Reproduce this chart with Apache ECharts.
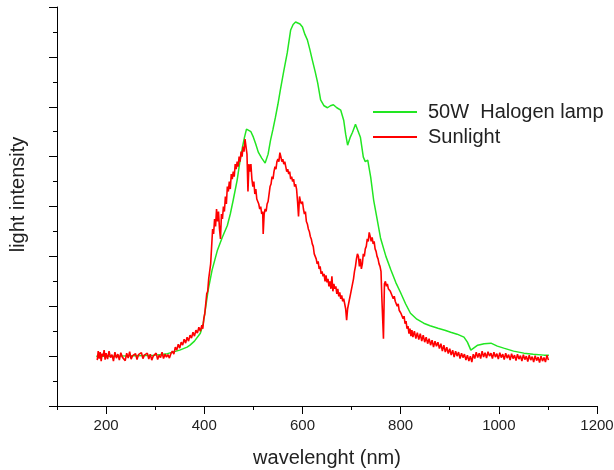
<!DOCTYPE html>
<html>
<head>
<meta charset="utf-8">
<script src="https://cdn.jsdelivr.net/npm/echarts@6/dist/echarts.min.js"></script>
<style>html,body{margin:0;padding:0;background:#fff;}#c{width:614px;height:470px;}</style>
</head>
<body>
<div id="c"></div>
<script>
const seriesNames = ['50W  Halogen lamp', 'Sunlight'];
const xMajorTicks = [200, 400, 600, 800, 1000, 1200];
const xMinorTicks = [100, 300, 500, 700, 900, 1100];

const halogen = [
[180,1.00],[220,1.00],[260,1.01],[300,1.02],[325,1.05],[350,1.12],[365,1.18],[371,1.22],[380,1.30],[392,1.46],
[398,1.66],[402,1.92],[408,2.33],[416,2.73],[427,3.13],[437,3.39],[447,3.62],[453,3.85],[459,4.13],[467,4.53],
[473,4.93],[478,5.20],[482,5.39],[486,5.55],[490,5.59],[495,5.50],[500,5.39],[505,5.25],[510,5.09],[517,4.97],
[524,4.87],[530,5.05],[535,5.33],[540,5.55],[545,5.79],[550,6.05],[555,6.34],[562,6.72],[569,7.08],[576,7.54],
[581,7.65],[586,7.70],[590,7.72],[595,7.66],[600,7.60],[605,7.45],[610,7.34],[615,7.15],[620,6.94],[626,6.70],
[631,6.48],[637,6.14],[644,6.02],[651,5.98],[657,6.02],[663,6.04],[670,5.98],[678,5.93],[684,5.73],[688,5.45],
[692,5.23],[697,5.38],[702,5.49],[708,5.65],[713,5.52],[718,5.39],[724,4.99],[728,4.90],[733,4.93],[739,4.59],
[745,4.13],[752,3.75],[759,3.37],[770,3.00],[780,2.73],[790,2.48],[800,2.27],[810,2.05],[820,1.86],[833,1.74],
[847,1.66],[860,1.61],[876,1.56],[890,1.52],[902,1.48],[915,1.44],[929,1.38],[936,1.28],[943,1.12],[950,1.17],
[957,1.22],[970,1.25],[984,1.26],[997,1.20],[1010,1.16],[1030,1.10],[1051,1.06],[1070,1.04],[1092,1.02],[1102,1.02]
];

const sunlight = [
[182,0.92],[184,1.10],[186,0.95],[188,1.08],[190,0.90],[192,1.05],[194,1.00],[196,1.12],[198,0.93],[200,1.06],
[203,0.94],[206,1.10],[209,0.97],[212,1.03],[215,0.90],[218,1.08],[221,0.96],[224,1.04],[227,0.92],[230,1.07],
[233,0.98],[236,1.02],[239,0.91],[242,1.06],[245,0.96],[248,1.09],[251,0.94],[254,1.01],[257,0.97],[260,1.05],
[263,0.93],[266,1.03],[269,0.99],[272,1.07],[275,0.95],[278,1.02],[281,0.98],[284,1.06],[287,0.94],[290,1.04],
[293,0.92],[296,1.00],[299,0.96],[302,1.06],[305,0.93],[308,1.02],[311,0.97],[314,1.08],[317,0.95],[320,1.04],
[323,0.98],[326,1.03],[329,0.96],[332,1.05],[335,1.10],[338,1.04],[341,1.18],[344,1.12],[347,1.24],[350,1.16],
[353,1.28],[356,1.22],[359,1.34],[362,1.26],[365,1.38],[368,1.30],[371,1.42],[374,1.36],[377,1.48],[380,1.40],
[383,1.52],[386,1.46],[389,1.58],[392,1.50],[395,1.62],[397,1.55],[399,1.75],[401,1.85],[403,2.05],[405,2.25],
[407,2.30],[409,2.55],[411,2.70],[413,2.85],[415,3.20],[417,3.55],[419,3.45],[421,3.75],[423,3.60],[425,3.95],
[427,3.70],[429,3.90],[431,3.55],[433,3.35],[435,3.85],[437,3.75],[439,4.00],[441,3.90],[443,4.20],[445,4.05],
[447,4.40],[449,4.30],[451,4.50],[453,4.35],[455,4.65],[457,4.55],[459,4.70],[461,4.60],[463,4.85],[465,4.75],
[467,4.90],[469,4.80],[471,5.00],[473,4.90],[475,5.10],[477,5.00],[479,5.20],[481,5.10],[483,5.35],[485,5.20],
[487,5.05],[489,4.30],[491,4.85],[493,4.70],[495,4.85],[497,4.55],[499,4.40],[501,4.50],[503,4.25],[505,4.35],
[507,4.15],[509,4.10],[511,4.05],[513,3.95],[515,4.00],[517,3.85],[519,3.90],[520,3.45],[522,3.85],[524,3.95],
[526,3.90],[528,4.05],[530,4.10],[532,4.25],[534,4.40],[536,4.45],[538,4.60],[540,4.55],[542,4.70],[544,4.80],
[546,4.75],[548,4.90],[550,4.95],[552,4.90],[554,5.08],[556,5.00],[558,4.90],[560,4.95],[562,4.85],[564,4.90],
[566,4.80],[568,4.70],[570,4.75],[572,4.65],[574,4.70],[576,4.55],[578,4.60],[580,4.50],[582,4.55],[584,4.40],
[586,4.45],[588,4.35],[590,4.10],[592,3.80],[594,4.20],[596,4.10],[598,4.05],[600,4.10],[602,3.95],[604,3.85],
[606,3.90],[608,3.70],[610,3.65],[612,3.55],[614,3.50],[616,3.40],[618,3.35],[620,3.25],[622,3.20],[624,3.05],
[626,3.00],[628,2.95],[630,2.85],[632,2.90],[634,2.75],[636,2.80],[638,2.65],[640,2.70],[642,2.60],[644,2.65],
[646,2.50],[648,2.62],[650,2.48],[652,2.55],[654,2.40],[656,2.50],[658,2.35],[660,2.60],[662,2.30],[664,2.45],
[666,2.35],[668,2.40],[670,2.25],[672,2.35],[674,2.20],[676,2.28],[678,2.15],[680,2.22],[682,2.10],[684,2.15],
[686,2.05],[688,1.95],[690,1.72],[692,1.95],[694,2.05],[696,2.15],[698,2.25],[700,2.35],[702,2.45],[704,2.55],
[706,2.70],[708,2.80],[710,2.95],[712,3.05],[714,3.00],[716,2.80],[718,2.95],[720,2.75],[722,2.85],[724,3.05],
[726,3.00],[728,3.15],[730,3.20],[732,3.35],[734,3.30],[736,3.48],[738,3.40],[740,3.30],[742,3.38],[744,3.25],
[746,3.30],[748,3.15],[750,3.10],[752,3.00],[754,2.95],[756,2.85],[758,2.80],[760,2.70],[762,2.10],[764,1.60],
[765,1.35],[766,1.90],[767,2.45],[769,2.50],[771,2.40],[773,2.45],[775,2.35],[777,2.38],[779,2.30],[781,2.25],
[783,2.28],[785,2.15],[787,2.20],[789,2.10],[791,2.12],[793,2.00],[795,2.05],[797,1.92],[799,1.95],[801,1.85],
[803,1.88],[805,1.75],[807,1.80],[809,1.65],[811,1.70],[813,1.55],[815,1.60],[817,1.45],[819,1.55],[821,1.40],
[823,1.52],[825,1.38],[828,1.50],[831,1.35],[834,1.47],[837,1.33],[840,1.45],[843,1.30],[846,1.42],[849,1.28],
[852,1.38],[855,1.25],[858,1.35],[861,1.22],[864,1.32],[867,1.18],[870,1.30],[873,1.20],[876,1.28],[879,1.15],
[882,1.25],[885,1.10],[888,1.22],[891,1.08],[894,1.18],[897,1.05],[900,1.15],[903,1.02],[906,1.12],[909,0.98],
[912,1.10],[915,1.00],[918,1.08],[921,0.95],[924,1.06],[927,0.97],[930,1.04],[933,0.92],[936,1.02],[939,0.90],
[942,1.00],[945,0.88],[948,1.04],[951,0.95],[954,1.08],[957,0.97],[960,1.06],[963,0.95],[966,1.10],[969,0.98],
[972,1.07],[975,0.96],[978,1.09],[981,1.00],[984,1.06],[987,0.95],[990,1.08],[993,0.98],[996,1.05],[999,0.94],
[1002,1.07],[1005,0.97],[1008,1.04],[1011,0.93],[1014,1.06],[1017,0.96],[1020,1.03],[1023,0.92],[1026,1.05],[1029,0.95],
[1032,1.02],[1035,0.91],[1038,1.04],[1041,0.94],[1044,1.01],[1047,0.90],[1050,1.03],[1053,0.93],[1056,1.00],[1059,0.89],
[1062,1.02],[1065,0.92],[1068,0.99],[1071,0.88],[1074,1.01],[1077,0.91],[1080,0.98],[1083,0.87],[1086,1.00],[1089,0.90],
[1092,0.97],[1095,0.88],[1098,1.02],[1101,0.92]
];

const FONT = 'Liberation Sans';
const chart = echarts.init(document.getElementById('c'), null, {renderer: 'canvas'});
chart.setOption({
  animation: false,
  backgroundColor: '#fff',
  grid: {left: 57, right: 17, top: 7, bottom: 64, containLabel: false, outerBoundsMode: 'none'},
  legend: {
    orient: 'vertical', left: 373, top: 102, itemGap: 5, padding: 0,
    itemWidth: 44, itemHeight: 2, icon: 'rect',
    textStyle: {fontFamily: FONT, fontSize: 20, color: '#222', padding: [0, 0, 0, 6]},
    data: seriesNames
  },
  xAxis: [{
    type: 'value', min: 100, max: 1200,
    name: 'wavelenght (nm)', nameLocation: 'middle', nameGap: 42,
    nameTextStyle: {fontFamily: FONT, fontSize: 20, color: '#222'},
    axisLine: {show: true, onZero: false, lineStyle: {color: '#000', width: 1}},
    axisTick: {show: true, length: 8, lineStyle: {color: '#000'}, customValues: xMajorTicks},
    axisLabel: {fontFamily: FONT, fontSize: 15, color: '#222', margin: 12, customValues: xMajorTicks,
      formatter: v => String(v)},
    splitLine: {show: false}
  }, {
    type: 'value', min: 100, max: 1200, position: 'bottom',
    axisLine: {show: false},
    axisTick: {show: true, length: 4, lineStyle: {color: '#000'}, customValues: xMinorTicks},
    axisLabel: {show: false},
    splitLine: {show: false}
  }],
  yAxis: {
    type: 'value', min: 0, max: 8, interval: 1,
    name: 'light intensity', nameLocation: 'middle', nameGap: 29,
    nameTextStyle: {fontFamily: FONT, fontSize: 20, color: '#222', padding: [0, 0, 0, 24]},
    axisLine: {show: true, onZero: false, lineStyle: {color: '#000', width: 1}},
    axisTick: {show: true, length: 8, lineStyle: {color: '#000'}},
    minorTick: {show: true, splitNumber: 2, length: 4, lineStyle: {color: '#000'}},
    axisLabel: {show: false},
    splitLine: {show: false}
  },
  series: [{
    name: seriesNames[0], type: 'line', data: halogen, showSymbol: false, symbol: 'none',
    lineStyle: {color: '#22e622', width: 1.5}, itemStyle: {color: '#22e622'}, z: 2
  }, {
    name: seriesNames[1], type: 'line', data: sunlight, showSymbol: false, symbol: 'none',
    lineStyle: {color: '#ff0000', width: 1.6}, itemStyle: {color: '#ff0000'}, z: 3
  }]
});
</script>
</body>
</html>
